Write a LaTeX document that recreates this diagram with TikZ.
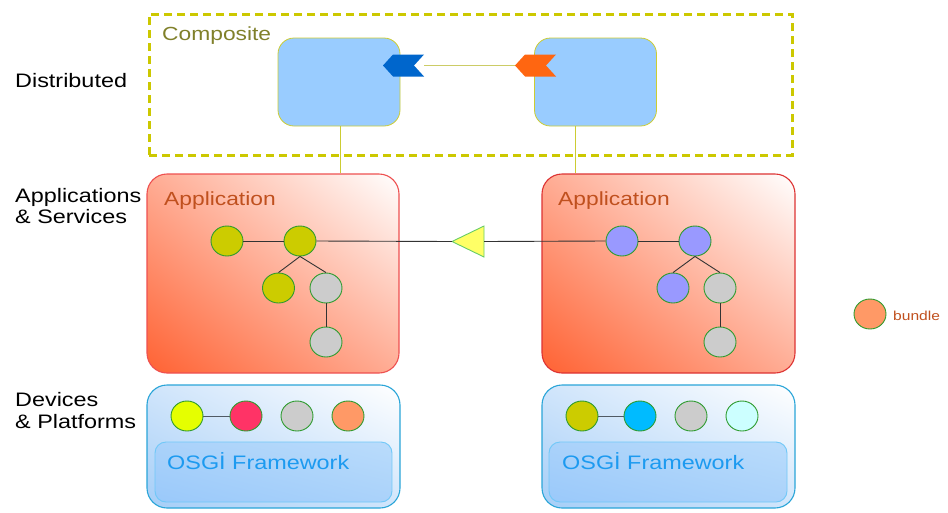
\documentclass[tikz,border=0pt]{standalone}
\usepackage{fontspec}
\setmainfont{Liberation Sans}[FakeStretch=1.2]
\usetikzlibrary{shapes.geometric,calc,shadings}
\definecolor{dashcol}{HTML}{CCC800}
\definecolor{comptext}{HTML}{80802A}
\definecolor{cfill}{HTML}{99CCFF}
\definecolor{cdraw}{HTML}{CCCC33}
\definecolor{chevblue}{HTML}{0066CC}
\definecolor{chevorange}{HTML}{FF6611}
\definecolor{ylink}{HTML}{CCCC66}
\definecolor{appred}{HTML}{EE5050}
\definecolor{appredR}{HTML}{DD3333}
\definecolor{apptext}{HTML}{C0501E}
\definecolor{edgecol}{HTML}{333333}
\definecolor{bgreen}{HTML}{2E9B2E}
\definecolor{olivefill}{HTML}{CCCC00}
\definecolor{greyfill}{HTML}{CCCCCC}
\definecolor{violetfill}{HTML}{9999FF}
\definecolor{trifill}{HTML}{FFFF66}
\definecolor{tridraw}{HTML}{66CC66}
\definecolor{devdraw}{HTML}{2AA5D8}
\definecolor{osgidraw}{HTML}{70C8F8}
\definecolor{osgitext}{HTML}{1C9AF0}
\definecolor{appLL}{HTML}{FF6233}
\definecolor{appMid}{HTML}{FFAC94}
\definecolor{devLL}{HTML}{A5CEF7}
\definecolor{devMid}{HTML}{D0E5FB}
\definecolor{osLL}{HTML}{9AC9FA}
\definecolor{osMid}{HTML}{AAD2FA}
\definecolor{osUR}{HTML}{BADCFB}
\definecolor{dyellow}{HTML}{E5FF00}
\definecolor{dred}{HTML}{FF3366}
\definecolor{dorange}{HTML}{FF9966}
\definecolor{dcyan}{HTML}{00BBFF}
\definecolor{dpale}{HTML}{CCFFFF}
\definecolor{dedge}{HTML}{505A64}
\begin{document}
\begin{tikzpicture}[x=1pt,y=-1pt,
  lbl/.style={anchor=base west, inner sep=0, font=\fontsize{19.5}{21}\selectfont},
  cbox/.style={draw=cdraw, line width=0.8pt, fill=cfill, rounded corners=16pt, minimum width=122pt, minimum height=88pt, inner sep=0},
  appbox/.style={rounded corners=20pt, line width=1.1pt, minimum width=252pt, minimum height=199pt, inner sep=0,
     lower left=appLL, upper right=white, upper left=appMid, lower right=appMid},
  devbox/.style={draw=devdraw, rounded corners=20pt, line width=1.1pt, minimum width=253pt, minimum height=123pt, inner sep=0,
     lower left=devLL, upper right=white, upper left=devMid, lower right=devMid},
  osgibox/.style={draw=osgidraw, rounded corners=11pt, line width=0.9pt, minimum width=237pt, minimum height=60pt, inner sep=0,
     lower left=osLL, upper right=osUR, upper left=osMid, lower right=osMid},
  bundle/.style={ellipse, draw=bgreen, line width=0.9pt, minimum width=32pt, minimum height=30pt, inner sep=0},
  tedge/.style={draw=edgecol, line width=0.9pt},
  yline/.style={draw=cdraw, line width=0.8pt}
]
\useasboundingbox (0,0) rectangle (948,512);

% left labels
\node[lbl] (ldist) at (15,87) {Distributed};
\node[lbl] (lapp1) at (15,202) {Applications};
\node[lbl] (lapp2) at (15,223) {\& Services};
\node[lbl] (ldev1) at (15,406) {Devices};
\node[lbl] (ldev2) at (15,428) {\& Platforms};

% composite
\node[draw=dashcol, line width=3pt, dash pattern=on 8pt off 5pt, minimum width=643pt, minimum height=141pt, inner sep=0] (comp) at (470.5,84.5) {};
\node[anchor=base west, inner sep=0, text=comptext, font=\fontsize{19}{20}\selectfont] (comptitle) at (162,40) {Composite};
\node[cbox] (c1) at (339,82) {};
\node[cbox] (c2) at (595.5,82) {};

% chevrons
\fill[chevblue] (383,65.5) -- (393,54.5) -- (424,54.5) -- (414,65.5) -- (424,76.5) -- (393,76.5) -- cycle;
\fill[chevorange] (515,65.5) -- (525,54.5) -- (556,54.5) -- (546,65.5) -- (556,76.5) -- (525,76.5) -- cycle;
\coordinate (chB) at (424,65.5);
\coordinate (chO) at (515,65.5);
\draw[draw=ylink, line width=0.8pt] (chB) -- (chO);

% application boxes
\node[appbox, draw=appred] (appL) at (273,273.5) {};
\node[appbox, draw=appredR, minimum width=253pt] (appR) at (668.5,273.5) {};
\node[lbl, text=apptext, font=\fontsize{19}{20}\selectfont] (appLt) at (164,205) {Application};
\node[lbl, text=apptext, font=\fontsize{19}{20}\selectfont] (appRt) at (558,205) {Application};

% vertical links
\coordinate (v1) at ([xshift=1pt]c1.south);
\coordinate (v2) at ([xshift=-20.5pt]c2.south);
\draw[yline] (v1) -- (v1 |- appL.north);
\draw[yline] (v2) -- (v2 |- appR.north);

% left tree
\node[bundle, fill=olivefill] (n1) at (227,241) {};
\node[bundle, fill=olivefill] (n2) at (300,241) {};
\node[bundle, fill=olivefill] (n3) at (278.5,288) {};
\node[bundle, fill=greyfill] (n4) at (326,288) {};
\node[bundle, fill=greyfill] (n5) at (326,342) {};
\draw[tedge] (n1) -- (n2);
\draw[tedge] (n2.south) -- (n3.north);
\draw[tedge] (n2.south) -- (n4.north);
\draw[tedge] (n4) -- (n5);

% right tree
\node[bundle, fill=violetfill] (m1) at (622,241) {};
\node[bundle, fill=violetfill] (m2) at (695,241) {};
\node[bundle, fill=violetfill] (m3) at (673,288) {};
\node[bundle, fill=greyfill] (m4) at (720,288) {};
\node[bundle, fill=greyfill] (m5) at (720,342) {};
\draw[tedge] (m1) -- (m2);
\draw[tedge] (m2.south) -- (m3.north);
\draw[tedge] (m2.south) -- (m4.north);
\draw[tedge] (m4) -- (m5);

% triangle and link
\fill[trifill] (452,241.5) -- (484,226) -- (484,257) -- cycle;
\draw[tridraw, line width=0.9pt] (452,241.5) -- (484,226) -- (484,257) -- cycle;
\coordinate (triL) at (452,241.5);
\coordinate (triR) at (484,241.5);
\draw[tedge] (n2.east) -- (triL);
\draw[tedge] (triR) -- (m1.west);

% device boxes
\node[devbox] (devL) at (273.5,446.5) {};
\node[devbox] (devR) at (668.5,446.5) {};
\node[osgibox] (osgiL) at (273.5,472) {};
\node[osgibox, minimum width=238pt] (osgiR) at (668,472) {};
\node[lbl, text=osgitext] (osgiLt) at (167,469) {OSGİ Framework};
\node[lbl, text=osgitext] (osgiRt) at (562,469) {OSGİ Framework};

\node[bundle, fill=dyellow] (d1) at (187,416) {};
\node[bundle, fill=dred] (d2) at (246,416) {};
\node[bundle, fill=greyfill] (d3) at (297,416) {};
\node[bundle, fill=dorange] (d4) at (348,416) {};
\draw[tedge, draw=dedge] (d1) -- (d2);

\node[bundle, fill=olivefill] (e1) at (582,416) {};
\node[bundle, fill=dcyan] (e2) at (640,416) {};
\node[bundle, fill=greyfill] (e3) at (691,416) {};
\node[bundle, fill=dpale] (e4) at (742,416) {};
\draw[tedge, draw=dedge] (e1) -- (e2);

% legend
\node[bundle, fill=dorange] (leg) at (870,314) {};
\node[anchor=base west, inner sep=0, text=apptext, font=\fontsize{13}{15}\selectfont] (legt) at (893,320) {bundle};
\end{tikzpicture}
\end{document}
